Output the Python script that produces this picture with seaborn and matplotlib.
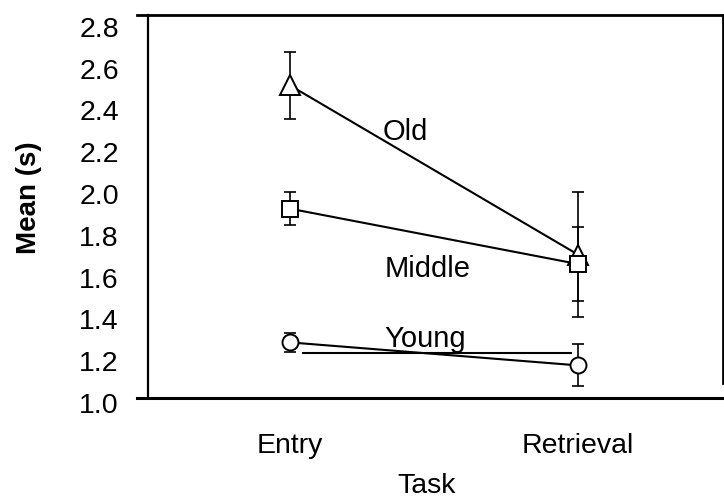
import numpy as np
import pandas as pd
import matplotlib
matplotlib.use("Agg")
import matplotlib.pyplot as plt
import seaborn as sns

# ============================================================
# 1. Data
# ============================================================
tasks = ["Entry", "Retrieval"]
groups = ["Old", "Middle", "Young"]
old_mean = [2.52, 1.71]
old_err = [0.16, 0.30]
middle_mean = [1.93, 1.665]
middle_err = [0.08, 0.175]
young_mean = [1.29, 1.18]
young_err = [0.045, 0.10]
young_rule = 1.24  # stray horizontal rule under "Young"

means = {"Old": old_mean, "Middle": middle_mean, "Young": young_mean}
errs = {"Old": old_err, "Middle": middle_err, "Young": young_err}
markers = {"Old": "^", "Middle": "s", "Young": "o"}
msizes = {"Old": 15, "Middle": 11.5, "Young": 11.5}

df = pd.DataFrame([
    {"Task": t, "Group": g, "Mean": means[g][i], "Err": errs[g][i]}
    for g in groups for i, t in enumerate(tasks)
])

# ============================================================
# 2. Figure
# ============================================================
sns.set_style("white")
plt.rcParams['font.family'] = ['Liberation Sans', 'DejaVu Sans']
plt.rcParams['text.color'] = 'black'
plt.rcParams['axes.labelcolor'] = 'black'
plt.rcParams['xtick.color'] = 'black'
plt.rcParams['ytick.color'] = 'black'

fig = plt.figure(figsize=(7.24, 5.0), dpi=100)
ax = fig.add_axes([137 / 724, 97 / 500, 586 / 724, 388 / 500])

for g in groups:
    sub = df[df["Group"] == g]
    xpos = np.arange(len(sub))
    ax.errorbar(xpos, sub["Mean"], yerr=sub["Err"], fmt="none",
                ecolor="black", elinewidth=1.2, capsize=4.5, capthick=1.2,
                zorder=2)
    sns.lineplot(x=xpos, y=sub["Mean"].values, ax=ax, color="black",
                 linewidth=1.5, marker=markers[g], markersize=msizes[g],
                 markerfacecolor="white", markeredgecolor="black",
                 markeredgewidth=1.4, zorder=3)

ax.hlines(young_rule, 0.04, 0.98, color="black", linewidth=1.5, zorder=1)

# group labels
ax.text(0.40, 2.258, "Old", fontsize=21, ha="center", va="baseline")
ax.text(0.477, 1.603, "Middle", fontsize=21, ha="center", va="baseline")
ax.text(0.469, 1.268, "Young", fontsize=21, ha="center", va="baseline")

# ============================================================
# 3. Axes styling
# ============================================================
ax.set_xlim(-0.531, 1.503)
ax.set_ylim(1.0, 2.857)
ax.set_xticks(range(len(tasks)))
ax.set_xticklabels(tasks)
ax.set_yticks(np.arange(1.0, 2.81, 0.2))
ax.set_yticklabels([f"{v:.1f}" for v in np.arange(1.0, 2.81, 0.2)])
ax.tick_params(axis="both", length=0, labelsize=20.5)
ax.tick_params(axis="y", pad=21)
ax.tick_params(axis="x", pad=25)

for s in ax.spines.values():
    s.set_color("black")
ax.spines["left"].set_position(("data", -0.493))
ax.spines["left"].set_linewidth(1.6)
ax.spines["left"].set_bounds(1.024, 2.857)
ax.spines["bottom"].set_position(("data", 1.024))
ax.spines["bottom"].set_linewidth(2.2)
ax.spines["top"].set_linewidth(2.0)
ax.spines["right"].set_linewidth(2.0)
ax.spines["right"].set_bounds(1.096, 2.857)

ax.set_xlabel("Task", fontsize=20.5)
ax.set_ylabel("Mean (s)", fontsize=20, fontweight="bold")
ax.xaxis.set_label_coords(0.495, -0.18)
ax.yaxis.set_label_coords(-0.162, 0.528)

plt.savefig("out.png", dpi=100)
